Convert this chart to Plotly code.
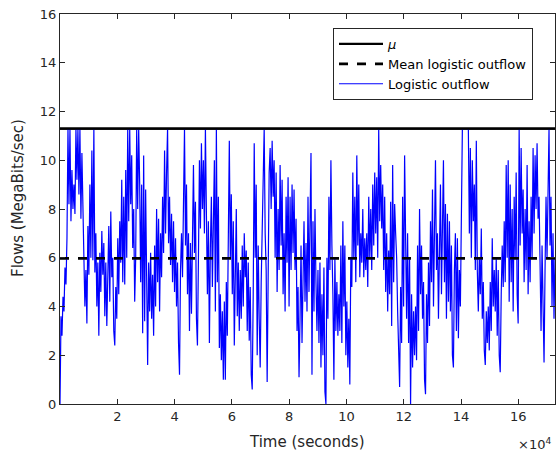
import numpy as np
import plotly.graph_objects as go

T_END = 172800  # seconds (two days)
MU = 11.3       # mu level (MegaBits/sec)
MEAN_OUT = 5.98 # mean logistic outflow

outflow = [
    # 0 - 0.28e5
    0.0, 3.6, 2.8, 4.4, 3.8, 5.6, 4.9, 6.8, 11.3, 8.2, 11.3, 7.5, 9.6, 8.0, 9.0, 7.8,
    11.3, 9.2, 11.3, 8.6, 11.3, 7.6, 10.3, 7.2, 6.0, 4.0, 5.5, 3.3, 7.3, 5.3, 9.0, 6.0,
    10.4, 5.9, 11.3, 5.4, 7.0, 4.0, 5.8, 2.8, 6.2, 4.6, 7.1, 5.3, 6.6, 3.6, 5.8, 3.2,
    5.6, 7.3, 4.2, 7.9, 5.2, 6.0, 3.0, 2.4, 4.8, 3.5, 6.8, 4.5, 7.5, 5.8, 9.2, 5.0,
    8.5, 4.9, 9.6, 6.0, 11.3, 7.5, 11.3, 8.2, 10.2, 6.4, 8.0, 4.2, 6.0, 11.3, 8.0, 11.3,
    9.0,
    # crop 2
    5.0, 9.0, 2.9, 10.2, 3.4, 8.8, 5.2, 1.6, 5.8, 3.8, 6.2, 3.5, 5.3, 2.8, 6.5, 4.0,
    8.0, 5.0, 7.6, 3.8, 7.0, 5.2, 8.5, 6.2, 10.4, 7.0, 9.5, 11.3, 6.6, 8.5, 5.7, 7.8,
    5.0, 7.5, 4.6, 6.8, 4.0, 5.8, 2.5, 1.2, 5.5, 7.0, 5.2, 7.5, 11.3, 6.5, 9.0, 4.5,
    7.0, 3.0, 6.6, 3.7, 8.0, 9.8, 6.2, 8.3, 3.5, 2.4, 6.0, 10.0, 7.2, 10.7, 8.0, 10.0,
    7.0, 11.3, 7.8, 4.5, 7.5, 2.5, 6.5, 8.5, 4.8, 7.5, 10.0, 3.8, 11.3, 5.0, 8.5, 2.3,
    4.5, 1.8, 3.8, 1.0, 4.2,
    # crop 3
    1.0, 5.0, 2.8, 7.2, 10.8, 6.0, 8.6, 4.5, 7.5, 2.4, 5.0, 8.0, 3.6, 5.8, 3.0, 5.5,
    3.5, 6.5, 4.0, 7.0, 5.2, 6.3, 3.0, 5.8, 2.6, 4.8, 1.2, 0.6, 4.5, 10.7, 6.0, 9.0,
    2.0, 6.5, 3.5, 1.5, 5.0, 7.5, 9.0, 11.3, 7.0, 5.5, 0.9, 6.0, 9.5, 10.5, 8.0, 10.8,
    8.5, 10.0, 6.0, 9.5, 4.6, 8.0, 5.5, 9.8, 6.5, 9.2, 4.5, 7.0, 3.8, 8.5, 5.8, 9.3,
    4.0, 8.5, 5.5, 9.0, 6.2, 8.8, 5.5, 7.6, 3.0, 4.8, 1.1, 3.5, 6.5, 2.5, 5.8, 7.5,
    4.2, 6.6, 3.8, 8.5, 4.6, 7.8,
    # crop 4
    10.3, 1.2, 7.5, 3.8, 8.0, 5.0, 3.0, 5.5, 2.5, 5.8, 1.5, 4.5, 2.0, 5.6, 0.5, 0.0,
    6.0, 3.5, 8.5, 5.5, 10.0, 6.5, 4.5, 1.0, 6.0, 3.0, 5.0, 2.8, 4.5, 3.0, 6.5, 2.5,
    7.5, 4.0, 6.5, 2.0, 4.2, 1.5, 3.5, 0.8, 6.0, 4.8, 9.5, 6.0, 8.5, 5.0, 10.2, 6.5,
    9.0, 5.2, 7.0, 5.8, 8.0, 5.2, 6.8, 5.5, 7.0, 4.8, 8.5, 6.0, 8.0, 5.5, 9.0, 6.5,
    9.5, 7.0, 9.3, 6.0, 11.3, 7.5, 9.8, 7.2, 9.0, 5.5, 8.5, 4.6, 7.0, 3.8, 6.3, 4.5,
    8.3, 3.2, 9.8, 5.0, 8.2,
    # crop 5
    7.0, 6.0, 3.8, 2.0, 0.7, 4.8, 2.5, 8.5, 4.0, 10.2, 5.5, 3.5, 7.0, 2.5, 6.0, 0.0,
    4.5, 1.5, 3.8, 2.0, 4.0, 1.8, 6.5, 3.0, 8.0, 4.5, 6.5, 3.5, 5.0, 1.0, 0.4, 4.5,
    2.5, 5.8, 3.2, 7.5, 5.0, 8.8, 4.0, 7.0, 10.0, 5.5, 7.0, 3.5, 6.0, 9.0, 4.5, 8.0,
    10.0, 5.0, 8.2, 3.5, 7.8, 4.2, 7.5, 3.8, 6.5, 2.0, 1.5, 5.5, 7.0, 3.0, 6.8, 2.7,
    5.5, 4.0, 8.5, 11.3, 11.3, 11.3, 11.3, 11.3, 11.3, 11.3, 7.0, 10.5, 6.0, 10.0, 7.5, 9.0,
    5.5,
    # crop 6
    10.8, 5.5, 3.8, 6.0, 4.5, 7.2, 3.5, 5.0, 2.2, 1.6, 3.8, 2.5, 4.0, 2.2, 5.0, 3.0,
    6.8, 4.0, 5.5, 3.8, 6.0, 2.8, 5.5, 2.0, 1.3, 4.5, 6.5, 4.8, 7.5, 5.0, 9.8, 6.0,
    10.0, 4.2, 9.0, 5.0, 8.0, 3.8, 8.5, 6.0, 9.5, 4.5, 3.3, 11.3, 6.5, 10.5, 7.0, 8.8,
    5.0, 8.0, 5.5, 9.8, 4.5, 7.5, 5.0, 8.5, 6.0, 10.5, 7.0, 10.2, 8.0, 10.7, 7.6, 8.5,
    4.5, 3.0, 6.5, 3.5, 1.7, 5.5, 8.5, 6.0, 10.0, 11.3, 6.5, 8.5, 4.0, 7.0, 3.5, 6.0,
]

time = np.linspace(0, T_END, len(outflow))

x_tick_vals = [20000, 40000, 60000, 80000, 100000, 120000, 140000, 160000]
x_tick_text = ["2", "4", "6", "8", "10", "12", "14", "16"]
y_tick_vals = [0, 2, 4, 6, 8, 10, 12, 14, 16]

AX = "#262626"
FONT = "DejaVu Sans, Liberation Sans, sans-serif"

fig = go.Figure()
fig.add_trace(go.Scatter(x=[0, T_END], y=[MU, MU], mode="lines",
                         line=dict(color="black", width=2.2),
                         name="<i>μ</i>"))
fig.add_trace(go.Scatter(x=[0, T_END], y=[MEAN_OUT, MEAN_OUT], mode="lines",
                         line=dict(color="black", width=2.6, dash="dash"),
                         name="Mean logistic outflow"))
fig.add_trace(go.Scatter(x=time, y=outflow, mode="lines",
                         line=dict(color="#0000ff", width=1.2),
                         name="Logistic outflow"))
# redraw the reference lines on top of the series
fig.add_trace(go.Scatter(x=[0, T_END], y=[MU, MU], mode="lines",
                         line=dict(color="black", width=2.2), showlegend=False,
                         hoverinfo="skip"))
fig.add_trace(go.Scatter(x=[0, T_END], y=[MEAN_OUT, MEAN_OUT], mode="lines",
                         line=dict(color="black", width=2.6, dash="dash"),
                         showlegend=False, hoverinfo="skip"))

fig.update_layout(
    width=556, height=456,
    margin=dict(l=60, r=1, t=14, b=52, autoexpand=False),
    paper_bgcolor="white", plot_bgcolor="white",
    font=dict(family=FONT, size=12, color=AX),
    showlegend=True,
    legend=dict(x=(333 - 60) / 495, y=(404 - 28) / 390, xanchor="left", yanchor="top",
                bgcolor="white", bordercolor=AX, borderwidth=1,
                font=dict(size=13, color="black"),
                tracegroupgap=0, itemwidth=44),
    xaxis=dict(range=[0, T_END], tickvals=x_tick_vals, ticktext=x_tick_text,
               ticks="inside", ticklen=5, tickcolor=AX, showgrid=False,
               zeroline=False, showline=True, linecolor=AX, linewidth=1,
               mirror="ticks", tickfont=dict(size=13, color=AX),
               automargin=False),
    yaxis=dict(range=[0, 16], tickvals=y_tick_vals,
               ticks="inside", ticklen=5, tickcolor=AX, showgrid=False,
               zeroline=False, showline=True, linecolor=AX, linewidth=1,
               mirror="ticks", tickfont=dict(size=13, color=AX),
               automargin=False),
    annotations=[
        dict(text="Time (seconds)", xref="paper", yref="paper",
             x=(307 - 60) / 495, y=(404 - 442) / 390, xanchor="center", yanchor="middle",
             showarrow=False, font=dict(size=15, color=AX)),
        dict(text="Flows (MegaBits/sec)", xref="paper", yref="paper",
             x=(18 - 60) / 495, y=(404 - 198) / 390, xanchor="center", yanchor="middle",
             textangle=-90, showarrow=False, font=dict(size=15, color=AX)),
        dict(text="×10<sup>4</sup>", xref="paper", yref="paper",
             x=(553 - 60) / 495, y=(404 - 454) / 390, xanchor="right", yanchor="bottom",
             showarrow=False, font=dict(size=13, color=AX)),
    ],
)

fig.write_html(
    "out.html",
    config={"displayModeBar": False},
    post_script="document.body.style.margin='0';document.body.style.overflow='hidden';",
)
